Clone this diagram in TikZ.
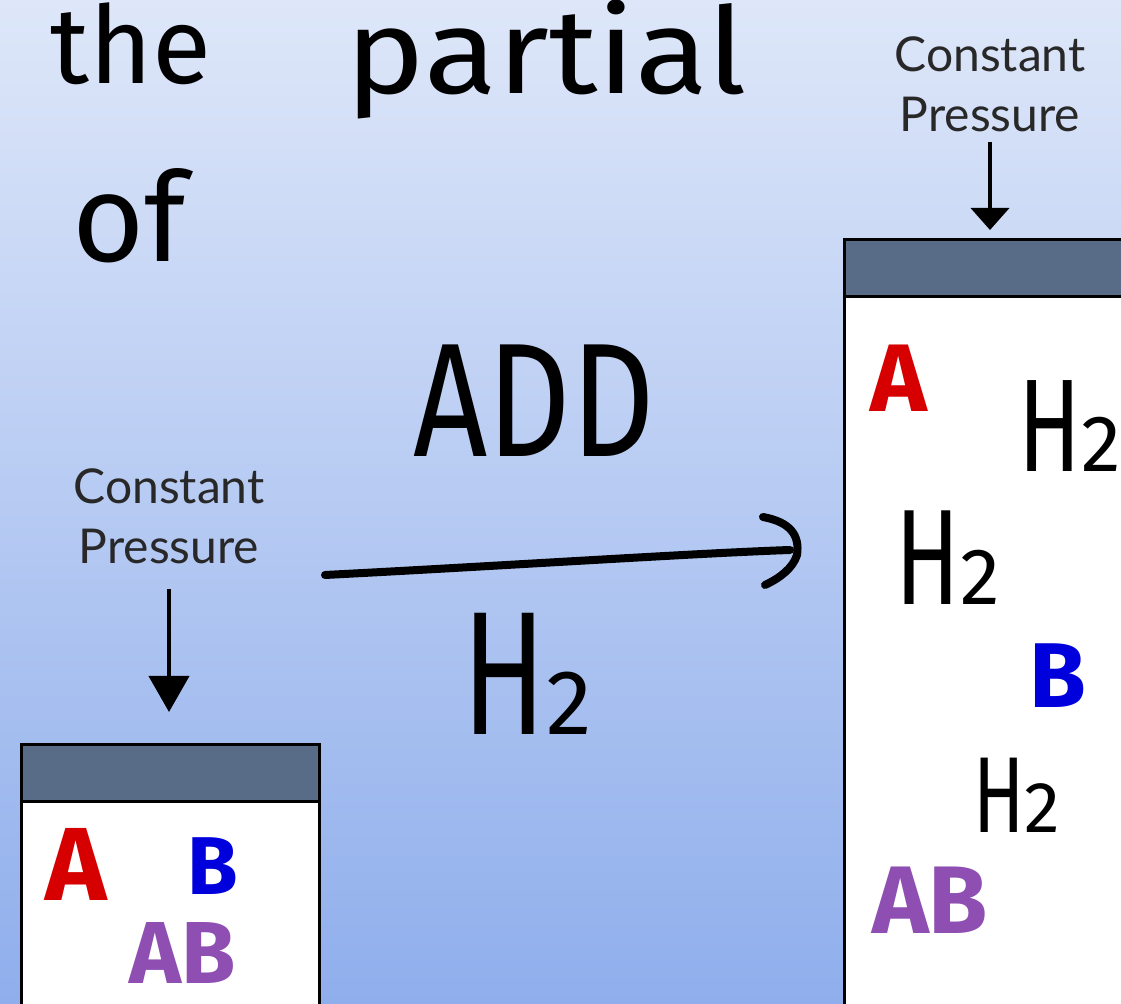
\documentclass[tikz,border=0pt]{standalone}
\usepackage{fontspec}
\usepackage{graphicx}
\usetikzlibrary{arrows.meta}
\newfontfamily\handfont{Fira Sans}
\newfontfamily\labelfont{Lato}
\definecolor{bgtop}{RGB}{222,231,249}
\definecolor{bgbot}{RGB}{143,174,236}
\definecolor{lidcol}{RGB}{88,108,136}
\definecolor{hred}{RGB}{214,0,0}
\definecolor{hblue}{RGB}{0,0,220}
\definecolor{hpurple}{RGB}{142,78,178}
\definecolor{labelgray}{RGB}{40,40,40}
\newcommand\htwo[2]{\scalebox{0.7}[1]{\fontsize{#1}{#1}\selectfont H}{\fontsize{#2}{#2}\selectfont 2}}
\begin{document}
\begin{tikzpicture}[x=0.5pt,y=-0.5pt,
  lbl/.style={font=\labelfont\fontsize{24}{30}\selectfont, text=labelgray, inner sep=0pt, align=center},
  hand/.style={font=\handfont, inner sep=0pt},
  handcol/.style={font=\handfont\bfseries, inner sep=0pt},
  handline/.style={line width=4pt, line cap=round, line join=round},
  pressarrow/.style={line width=2pt, -{Triangle[length=18pt,width=20pt]}},
  pressarrowsmall/.style={line width=2pt, -{Triangle[length=11pt,width=19pt]}},
  boxbody/.style={draw=black, line width=1.5pt, fill=white, inner sep=0pt, anchor=north west},
  boxlid/.style={draw=black, line width=1.5pt, fill=lidcol, inner sep=0pt, anchor=north west}]
\useasboundingbox (0,0) rectangle (1121,1004);
\clip (0,0) rectangle (1121,1004);
\shade[top color=bgtop, bottom color=bgbot] (0,0) rectangle (1121,1004);

% handwritten words at the top
\node[hand, anchor=base west] (the) at (50,84) {\fontsize{54}{56}\selectfont the};
\node[hand, anchor=base west] (partial) at (345,94) {\scalebox{1.12}[1]{\fontsize{60}{62}\selectfont partial}};
\node[hand, anchor=base west] (of) at (72,262) {\fontsize{62}{64}\selectfont of};

% reaction arrow
\node[hand] (add) at (534,401) {\scalebox{0.8}[1]{\fontsize{81}{82}\selectfont ADD}};
\node[hand, anchor=base west] (h2add) at (462,735) {\htwo{88}{46}};
\coordinate (astart) at (325,575);
\coordinate (aend) at (790,550);
\draw[handline] (astart) .. controls (500,566) and (700,553) .. (aend);
\draw[handline] ([shift={(-27,-33)}]aend) .. controls ([shift={(0,-28)}]aend) and ([shift={(10,-15)}]aend) .. ([shift={(7,5)}]aend) .. controls ([shift={(3,18)}]aend) and ([shift={(-10,28)}]aend) .. ([shift={(-25,35)}]aend);

% left container
\node[lbl] (lpress) at (169,516) {Constant\\Pressure};
\node[boxbody, minimum width=149pt, minimum height=150pt] (lbox) at (20,743) {};
\node[boxlid, minimum width=149pt, minimum height=28.5pt] (llid) at (20,743) {};
\coordinate (la1) at ([yshift=-12.5pt]lpress.south);
\coordinate (la2) at ([yshift=15.5pt]llid.north);
\draw[pressarrow] (la1) -- (la1 |- la2);
\node[handcol, text=hred] (la) at (76,864) {\fontsize{52}{52}\selectfont A};
\node[handcol, text=hblue] (lb) at (213,866) {\fontsize{41}{41}\selectfont B};
\node[handcol, text=hpurple] (lab) at (183,953) {\fontsize{44}{44}\selectfont AB};

% right container
\node[lbl] (rpress) at (990,84) {Constant\\Pressure};
\node[boxbody, minimum width=150pt, minimum height=390pt] (rbox) at (843,238) {};
\node[boxlid, minimum width=150pt, minimum height=28.5pt] (rlid) at (843,238) {};
\coordinate (ra1) at ([yshift=-5pt]rpress.south);
\coordinate (ra2) at ([yshift=4pt]rlid.north);
\draw[pressarrowsmall] (ra1) -- (ra1 |- ra2);
\node[handcol, text=hred] (ra) at (899,378) {\fontsize{48}{48}\selectfont A};
\node[hand, anchor=base west] (rh1) at (1018,472) {\htwo{66}{40}};
\node[hand, anchor=base west] (rh2) at (895,605) {\htwo{68}{40}};
\node[handcol, text=hblue] (rb) at (1058,676) {\fontsize{46}{46}\selectfont B};
\node[hand, anchor=base west] (rh3) at (973,833) {\htwo{54}{36}};
\node[handcol, text=hpurple] (rab) at (930,900) {\fontsize{48}{48}\selectfont AB};
\end{tikzpicture}
\end{document}
